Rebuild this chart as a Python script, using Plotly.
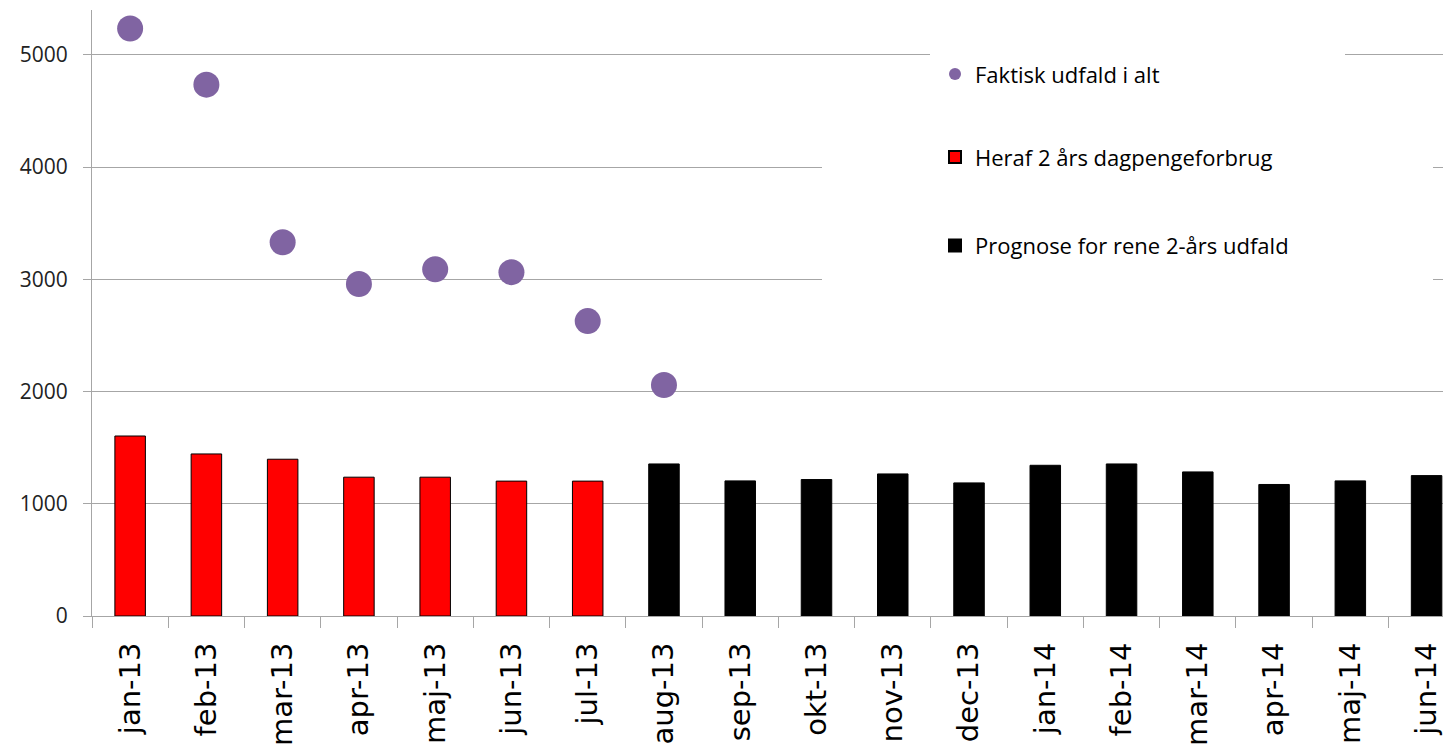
import plotly.graph_objects as go

months = ["jan-13", "feb-13", "mar-13", "apr-13", "maj-13", "jun-13", "jul-13", "aug-13",
          "sep-13", "okt-13", "nov-13", "dec-13", "jan-14", "feb-14", "mar-14", "apr-14",
          "maj-14", "jun-14"]

faktisk_months = months[:8]
faktisk_values = [5235, 4735, 3330, 2958, 3090, 3064, 2628, 2058]

heraf_months = months[:7]
heraf_values = [1604, 1444, 1397, 1237, 1237, 1202, 1202]

prognose_months = months[7:]
prognose_values = [1355, 1204, 1216, 1266, 1186, 1343, 1355, 1284, 1172, 1204, 1251]

y_ticks = [0, 1000, 2000, 3000, 4000, 5000]

fig = go.Figure()

fig.add_trace(go.Bar(
    x=heraf_months, y=heraf_values, name="Heraf 2 års dagpengeforbrug",
    marker=dict(color="#FF0000", line=dict(color="#000000", width=1)),
    width=0.4, legend="legend2",
))
fig.add_trace(go.Bar(
    x=prognose_months, y=prognose_values, name="Prognose for rene 2-års udfald",
    marker=dict(color="#000000", line=dict(color="#000000", width=1)),
    width=0.4, legend="legend3",
))
fig.add_trace(go.Scatter(
    x=faktisk_months, y=faktisk_values, name="Faktisk udfald i alt", mode="markers",
    marker=dict(color="#8064A2", size=26), legend="legend",
))

grid = "#A6A6A6"
legend_font = dict(family="Open Sans, sans-serif", size=22, color="#000000")
legend_common = dict(bgcolor="rgba(0,0,0,0)", font=legend_font, itemsizing="constant",
                     xanchor="left", yanchor="middle", xref="paper", yref="paper")
LX = (935 - 92) / 1359

fig.update_layout(
    width=1443, height=741,
    margin=dict(l=84, r=0, t=2, b=133),
    paper_bgcolor="white", plot_bgcolor="white",
    barmode="overlay",
    showlegend=True,
    legend=dict(x=LX, y=0.894, **legend_common),
    legend2=dict(x=LX, y=0.757, **legend_common),
    legend3=dict(x=LX, y=0.611, **legend_common),
    xaxis=dict(
        type="category", categoryorder="array", categoryarray=months,
        range=[-0.5, 17.32],
        tickangle=-90, tickson="boundaries", ticks="outside", ticklen=11,
        tickcolor=grid, showline=True, linecolor=grid, linewidth=1,
        showgrid=False, ticklabelstandoff=14,
        tickfont=dict(family="DejaVu Sans, sans-serif", size=29, color="#000000"),
    ),
    yaxis=dict(
        range=[0, 5400], tickvals=y_ticks,
        ticks="outside", ticklen=8, tickcolor=grid,
        showline=True, linecolor=grid, linewidth=1,
        showgrid=True, gridcolor=grid, gridwidth=1, zeroline=False,
        ticklabelstandoff=11,
        tickfont=dict(family="Open Sans, sans-serif", size=21, color="#222222"),
    ),
    shapes=[
        dict(type="rect", xref="paper", yref="paper", layer="above",
             x0=(930 - 92) / 1359, x1=(1345 - 92) / 1359, y0=0.851, y1=0.967,
             fillcolor="white", line=dict(width=0)),
        dict(type="rect", xref="paper", yref="paper", layer="above",
             x0=(822 - 92) / 1359, x1=(1433 - 92) / 1359, y0=0.521, y1=0.835,
             fillcolor="white", line=dict(width=0)),
    ],
)

fig.write_html("out.html")
